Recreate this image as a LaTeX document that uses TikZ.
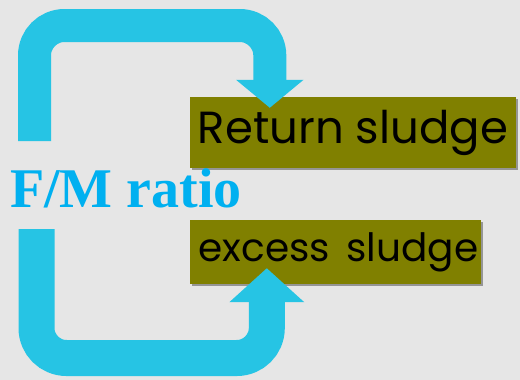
\documentclass[tikz,border=0pt]{standalone}
\usepackage{fontspec}
\usepackage{tikz}
\usetikzlibrary{arrows.meta, positioning, shadows, calc}
\setmainfont{Liberation Serif}
\newfontfamily\handfont{Poppins}
\definecolor{loopcyan}{RGB}{38, 196, 228}
\definecolor{ratioblue}{RGB}{0, 176, 240}
\definecolor{sludgeolive}{RGB}{128, 128, 0}
\definecolor{paper}{RGB}{230, 230, 230}

\begin{document}
\begin{tikzpicture}[
          x=1pt, y=-1pt,
          sludgebox/.style={rectangle, fill=sludgeolive, inner sep=0pt, text=black,
            drop shadow={shadow xshift=2pt, shadow yshift=-2pt, opacity=0.35, fill=black}},
          loopband/.style={draw=loopcyan, line cap=butt, rounded corners=30pt}
        ]
          % Background
          \fill[paper] (0,0) rectangle (520,380);
          \useasboundingbox (0,0) rectangle (520,380);

          % Sludge boxes
          \node[sludgebox, minimum width=326pt, minimum height=71pt] (ret) at (353,132.5)
            {\handfont\fontsize{45}{48}\selectfont Return sludge};
          \node[sludgebox, minimum width=291pt, minimum height=64pt] (exc) at (335.5,252)
            {\handfont\fontsize{39}{42}\selectfont\hspace{6pt}excess\hspace{6pt} sludge};

          % F/M ratio
          \node[anchor=base west, inner sep=0pt, text=ratioblue, font=\fontsize{56}{60}\selectfont\bfseries] (fm) at (10,207) {F/M ratio};

          % Loop ends
          \coordinate (topstart) at (34.5,141);
          \coordinate (toptip) at ($(ret.north west)+(80,11)$);
          \coordinate (botstart) at (36.5,229);
          \coordinate (bottip) at ($(exc.south west)+(77,-16)$);

          % Top loop to return sludge
          \draw[loopband, line width=33pt, -{Triangle[width=66pt, length=28pt]}]
            (topstart) -- (topstart |- 0,25.5) -- (toptip |- 0,25.5) -- (toptip);

          % Bottom loop to excess sludge
          \draw[loopband, line width=36pt, -{Triangle[width=73pt, length=34pt]}]
            (botstart) -- (botstart |- 0,358) -- (bottip |- 0,358) -- (bottip);
        \end{tikzpicture}
\end{document}
